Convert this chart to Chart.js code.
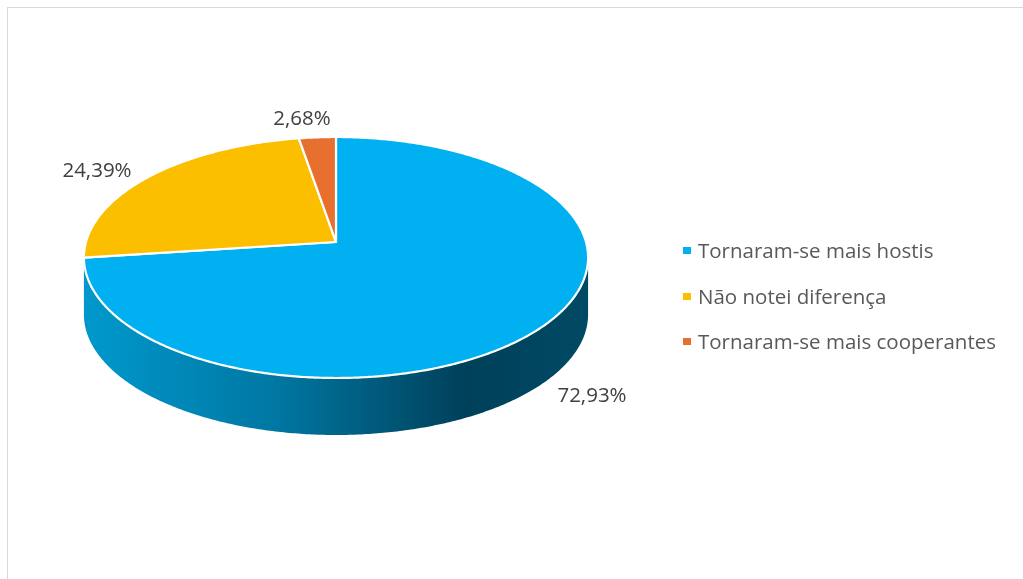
<!DOCTYPE html>
<html>
<head>
<meta charset="utf-8">
<script src="https://cdn.jsdelivr.net/npm/chart.js@4.4.1/dist/chart.umd.min.js"></script>
<style>
  html, body { margin: 0; padding: 0; background: #fff; }
  #wrap { position: relative; width: 1023px; height: 579px; overflow: hidden; }
  #frame { position: absolute; left: 7px; top: 7px; width: 1100px; height: 700px; border: 1.5px solid #d9d9d9; box-sizing: border-box; }
  canvas { position: absolute; left: 0; top: 0; }
  #legend { position: absolute; left: 683px; top: 0; font-family: "Open Sans", sans-serif; font-size: 20.5px; color: #595959; }
  .item { position: absolute; left: 0; height: 28px; line-height: 28px; padding-left: 15px; white-space: nowrap; }
  .sw { position: absolute; left: 0; top: 11px; width: 8px; height: 7px; }
</style>
</head>
<body>
<div id="wrap">
  <div id="frame"></div>
  <canvas id="c" width="1023" height="579"></canvas>
  <div id="legend"></div>
</div>
<script>
const categories = ["Tornaram-se mais hostis", "Não notei diferença", "Tornaram-se mais cooperantes"];
const values = [72.93, 24.39, 2.68];
const valueLabels = ["72,93%", "24,39%", "2,68%"];
const colors = ["#00B0F0", "#FBBF00", "#E8702F"];
const sideColors = ["#0090C4", "#C89500", "#B5541E"];

// perspective view of the pie disc
const CX = 336, CY = 242, RADIUS = 250, FLAT = 0.474, PERSP = 0.1286, DEPTH = 57;

function project(c, r, dy) {
  const w = 1 - PERSP * Math.sin(c);
  return [CX + r * Math.cos(c) / w, CY + r * FLAT * Math.sin(c) / w + (dy || 0)];
}
function arcPath(ctx, r, a1, a2, dy, first) {
  const n = Math.max(2, Math.ceil(Math.abs(a2 - a1) / 0.01));
  for (let k = 0; k <= n; k++) {
    const p = project(a1 + (a2 - a1) * k / n, r, dy);
    if (k === 0 && first) ctx.moveTo(p[0], p[1]); else ctx.lineTo(p[0], p[1]);
  }
}

const pie3d = {
  id: 'pie3d',
  beforeDatasetsDraw(chart) {
    const ctx = chart.ctx;
    const meta = chart.getDatasetMeta(0);
    const vis0 = Math.asin(PERSP), vis1 = Math.PI - Math.asin(PERSP);
    // outer walls (front, visible part)
    meta.data.forEach((arc, i) => {
      const p = arc.getProps(['startAngle', 'endAngle', 'outerRadius'], true);
      const a1 = Math.max(p.startAngle, vis0), a2 = Math.min(p.endAngle, vis1);
      if (a2 <= a1) return;
      const r = p.outerRadius;
      ctx.save();
      ctx.beginPath();
      arcPath(ctx, r, a1, a2, 0, true);
      arcPath(ctx, r, a2, a1, DEPTH, false);
      ctx.closePath();
      let fill = sideColors[i];
      if (i === 0) {
        const g = ctx.createLinearGradient(CX - r, 0, CX + r, 0);
        g.addColorStop(0, '#0098CC');
        g.addColorStop(0.38, '#0077A2');
        g.addColorStop(0.76, '#00405A');
        g.addColorStop(1, '#004964');
        fill = g;
      }
      ctx.fillStyle = fill;
      ctx.fill();
      ctx.restore();
    });
    // top faces
    meta.data.forEach((arc, i) => {
      const p = arc.getProps(['startAngle', 'endAngle', 'outerRadius'], true);
      ctx.save();
      ctx.beginPath();
      ctx.moveTo(CX, CY);
      arcPath(ctx, p.outerRadius, p.startAngle, p.endAngle, 0, false);
      ctx.closePath();
      ctx.fillStyle = colors[i];
      ctx.fill();
      ctx.lineJoin = 'round';
      ctx.lineWidth = 2.2;
      ctx.strokeStyle = '#ffffff';
      ctx.stroke();
      ctx.restore();
    });
    // value labels
    ctx.save();
    ctx.font = '20.5px "Open Sans", sans-serif';
    ctx.fillStyle = '#404040';
    ctx.textAlign = 'center';
    ctx.textBaseline = 'middle';
    const pos = [[592, 396], [97, 171], [302, 119]];
    valueLabels.forEach((t, i) => ctx.fillText(t, pos[i][0], pos[i][1]));
    ctx.restore();
    return false;
  }
};

new Chart(document.getElementById('c'), {
  type: 'pie',
  data: {
    labels: categories,
    datasets: [{
      data: values,
      backgroundColor: colors,
      borderColor: '#ffffff',
      borderWidth: 2,
      hoverOffset: 0
    }]
  },
  options: {
    responsive: false,
    animation: false,
    radius: RADIUS,
    layout: { padding: { left: 86, right: 437, top: 10, bottom: 69 } },
    plugins: { legend: { display: false }, tooltip: { enabled: false } },
    events: []
  },
  plugins: [pie3d]
});

const lg = document.getElementById('legend');
const rowY = [250, 296, 341];
categories.forEach((c, i) => {
  const d = document.createElement('div');
  d.className = 'item';
  d.style.top = (rowY[i] - 14) + 'px';
  d.innerHTML = '<span class="sw" style="background:' + colors[i] + '"></span>' + c;
  lg.appendChild(d);
});
</script>
</body>
</html>
